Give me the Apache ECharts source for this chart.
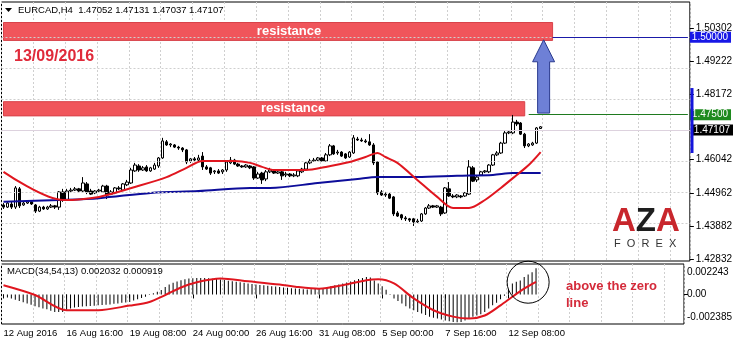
<!DOCTYPE html>
<html><head><meta charset="utf-8">
<script src="https://cdn.jsdelivr.net/npm/echarts@6/dist/echarts.min.js"></script>
<style>html,body{margin:0;padding:0;background:#fff}#c{width:735px;height:345px}</style>
</head><body><div id="c"></div><script>
const opens = [1.4458,1.4451,1.4461,1.4451,1.4510,1.4458,1.4464,1.4468,1.4458,1.4438,
1.4451,1.4445,1.4451,1.4455,1.4451,1.4500,1.4474,1.4503,1.4506,1.4510,
1.4503,1.4526,1.4503,1.4497,1.4503,1.4500,1.4519,1.4493,1.4497,1.4513,
1.4506,1.4523,1.4529,1.4568,1.4584,1.4571,1.4581,1.4568,1.4574,1.4584,
1.4610,1.4662,1.4652,1.4652,1.4645,1.4642,1.4636,1.4600,1.4607,1.4603,
1.4616,1.4581,1.4578,1.4565,1.4568,1.4565,1.4571,1.4594,1.4603,1.4590,
1.4584,1.4581,1.4584,1.4581,1.4545,1.4561,1.4542,1.4565,1.4568,1.4561,
1.4565,1.4555,1.4558,1.4552,1.4552,1.4565,1.4574,1.4594,1.4600,1.4603,
1.4610,1.4600,1.4620,1.4649,1.4626,1.4629,1.4623,1.4613,1.4626,1.4671,
1.4668,1.4665,1.4662,1.4652,1.4597,1.4500,1.4490,1.4493,1.4484,1.4432,
1.4426,1.4416,1.4413,1.4413,1.4403,1.4406,1.4429,1.4448,1.4455,1.4451,
1.4451,1.4432,1.4510,1.4487,1.4484,1.4487,1.4487,1.4493,1.4578,1.4539,
1.4555,1.4565,1.4565,1.4587,1.4620,1.4626,1.4658,1.4691,1.4691,1.4726,
1.4723,1.4687,1.4649,1.4652,1.4658,1.47052];
const closes = [1.4451,1.4464,1.4451,1.4513,1.4455,1.4464,1.4468,1.4461,1.4438,1.4451,
1.4445,1.4451,1.4455,1.4451,1.4500,1.4474,1.4503,1.4506,1.4510,1.4503,
1.4529,1.4500,1.4493,1.4503,1.4506,1.4519,1.4490,1.4500,1.4513,1.4510,
1.4526,1.4532,1.4571,1.4587,1.4571,1.4578,1.4568,1.4578,1.4587,1.4610,
1.4665,1.4652,1.4655,1.4645,1.4642,1.4636,1.4597,1.4607,1.4603,1.4610,
1.4581,1.4574,1.4561,1.4568,1.4561,1.4571,1.4597,1.4603,1.4590,1.4584,
1.4581,1.4587,1.4578,1.4545,1.4558,1.4539,1.4565,1.4571,1.4561,1.4565,
1.4552,1.4558,1.4552,1.4555,1.4568,1.4574,1.4594,1.4600,1.4603,1.4610,
1.4600,1.4620,1.4649,1.4623,1.4629,1.4616,1.4610,1.4629,1.4675,1.4668,
1.4665,1.4662,1.4652,1.4594,1.4497,1.4490,1.4493,1.4480,1.4429,1.4422,
1.4416,1.4413,1.4409,1.4403,1.4406,1.4429,1.4448,1.4455,1.4451,1.4455,
1.4429,1.4513,1.4487,1.4484,1.4490,1.4484,1.4497,1.4581,1.4535,1.4548,
1.4565,1.4568,1.4587,1.4620,1.4626,1.4658,1.4691,1.4694,1.4726,1.4720,
1.4687,1.4649,1.4655,1.4658,1.4707,1.47107];
const lows = [1.4445,1.4448,1.4445,1.4445,1.4448,1.4455,1.4461,1.4458,1.4432,1.4435,
1.4442,1.4442,1.4448,1.4445,1.4442,1.4468,1.4471,1.4500,1.4503,1.4500,
1.4500,1.4493,1.4490,1.4493,1.4500,1.4497,1.4477,1.4490,1.4493,1.4506,
1.4503,1.4519,1.4526,1.4565,1.4565,1.4568,1.4565,1.4565,1.4571,1.4578,
1.4607,1.4649,1.4645,1.4642,1.4636,1.4629,1.4590,1.4594,1.4600,1.4600,
1.4571,1.4571,1.4555,1.4558,1.4558,1.4558,1.4565,1.4590,1.4587,1.4581,
1.4578,1.4578,1.4574,1.4539,1.4542,1.4526,1.4535,1.4561,1.4558,1.4558,
1.4539,1.4548,1.4548,1.4548,1.4548,1.4561,1.4571,1.4590,1.4597,1.4600,
1.4597,1.4597,1.4616,1.4620,1.4620,1.4613,1.4607,1.4610,1.4623,1.4665,
1.4662,1.4658,1.4649,1.4587,1.4490,1.4487,1.4484,1.4477,1.4422,1.4419,
1.4409,1.4406,1.4403,1.4390,1.4400,1.4403,1.4426,1.4445,1.4448,1.4448,
1.4422,1.4429,1.4484,1.4480,1.4480,1.4480,1.4484,1.4490,1.4532,1.4532,
1.4552,1.4561,1.4561,1.4584,1.4616,1.4623,1.4655,1.4687,1.4687,1.4713,
1.4684,1.4642,1.4645,1.4649,1.4655,1.47037];
const highs = [1.4464,1.4468,1.4468,1.4519,1.4516,1.4471,1.4474,1.4471,1.4461,1.4455,
1.4455,1.4455,1.4461,1.4458,1.4503,1.4510,1.4510,1.4513,1.4516,1.4513,
1.4548,1.4532,1.4510,1.4506,1.4510,1.4523,1.4523,1.4506,1.4516,1.4519,
1.4529,1.4539,1.4578,1.4594,1.4590,1.4584,1.4587,1.4581,1.4594,1.4613,
1.4675,1.4668,1.4658,1.4655,1.4649,1.4645,1.4639,1.4610,1.4613,1.4620,
1.4629,1.4587,1.4581,1.4571,1.4574,1.4574,1.4600,1.4613,1.4607,1.4594,
1.4587,1.4590,1.4587,1.4584,1.4565,1.4565,1.4571,1.4578,1.4571,1.4571,
1.4568,1.4565,1.4561,1.4561,1.4571,1.4578,1.4597,1.4607,1.4610,1.4613,
1.4613,1.4626,1.4655,1.4652,1.4636,1.4632,1.4626,1.4632,1.4684,1.4678,
1.4675,1.4671,1.4687,1.4658,1.4600,1.4506,1.4500,1.4497,1.4487,1.4438,
1.4429,1.4422,1.4416,1.4416,1.4413,1.4432,1.4451,1.4461,1.4458,1.4458,
1.4455,1.4516,1.4532,1.4493,1.4493,1.4490,1.4500,1.4603,1.4584,1.4552,
1.4568,1.4571,1.4590,1.4623,1.4632,1.4662,1.4697,1.4697,1.4749,1.4733,
1.4726,1.4691,1.4658,1.4662,1.4710,1.47131];

const redMA = [[0,1.4565],[15,1.4474],[24,1.4484],[33,1.4516],[41,1.4548],[46,1.4578],[50,1.4600],[58,1.4600],[62,1.4594],[65,1.4581],[68,1.4571],[76,1.4571],[81,1.4581],[87,1.4597],[91,1.4613],[94,1.4626],[96,1.4613],[99,1.4594],[104,1.4539],[109,1.4484],[113,1.4448],[117,1.4448],[121,1.4474],[125,1.4513],[129,1.4555],[132,1.4587],[135,1.4629]];
const blueMA = [[0,1.4468],[14,1.4474],[24,1.4480],[37,1.4497],[49,1.4503],[62,1.4513],[67,1.4513],[79,1.4529],[89,1.4542],[94,1.4548],[104,1.4548],[114,1.4552],[123,1.4555],[128,1.4561],[135,1.4561]];

const macdHist = [-0.0002,-0.00026,-0.00035,-0.00045,-0.00055,-0.00066,-0.00077,-0.00088,-0.001,-0.0011,
-0.0012,-0.00127,-0.0014,-0.0015,-0.0015,-0.0015,-0.0013,-0.0012,-0.00112,-0.00107,
-0.00104,-0.00101,-0.00099,-0.00096,-0.00093,-0.0009,-0.00088,-0.00086,-0.0008,-0.00077,
-0.00072,-0.00068,-0.00064,-0.00052,-0.00041,-0.0003,-0.0002,-0.00005,0.0001,0.00024,
0.00039,0.00064,0.00085,0.001,0.00112,0.00122,0.0013,0.00137,0.00139,0.0014,
0.00141,0.0014,0.00138,0.00135,0.00132,0.00129,0.00124,0.00118,0.00113,0.00109,
0.00104,0.001,0.00095,0.0009,0.00086,0.00082,0.00079,0.00075,0.00071,0.00068,
0.00064,0.0006,0.00057,0.00054,0.00051,0.00048,0.00045,0.00043,0.00044,0.00047,
0.00051,0.00056,0.00062,0.0007,0.00078,0.00086,0.00094,0.00103,0.00112,0.00122,
0.00132,0.00142,0.0015,0.00145,0.0012,0.00094,0.0007,0.0004,0.00005,-0.00034,
-0.00055,-0.00077,-0.001,-0.0012,-0.00135,-0.0015,-0.00163,-0.00176,-0.0019,-0.002,
-0.00206,-0.00215,-0.00223,-0.0023,-0.00235,-0.00238,-0.00235,-0.00223,-0.0021,-0.0019,
-0.0018,-0.0017,-0.0015,-0.0012,-0.00093,-0.0007,-0.0004,-0.0001,0.0004,0.00094,
0.0011,0.0012,0.0015,0.0017,0.0019,0.00224];
const macdSignal = [[0,0.00079],[8,-0.00005],[16,-0.00135],[24,-0.00135],[32,-0.00095],[37,-0.00064],[41,-0.00005],[45,0.0006],[49,0.00105],[55,0.00137],[62,0.00113],[70,0.00085],[74,0.00066],[80,0.0005],[86,0.00079],[92,0.00122],[95,0.0013],[99,0.00094],[104,-0.00034],[109,-0.00135],[114,-0.0019],[118,-0.00206],[122,-0.0018],[126,-0.00093],[129,-0.0002],[132,0.0005],[135,0.00107]];

const priceTicks = [1.50302,1.49222,1.48172,1.46042,1.44962,1.43882,1.42832];
const gridLevels = [1.50302,1.49222,1.48172,1.47092,1.46042,1.44962,1.43882];
const macdTicks = [0.002243,0,-0.002385];
const timeLabels = ['12 Aug 2016','16 Aug 16:00','19 Aug 08:00','24 Aug 00:00','26 Aug 16:00','31 Aug 08:00','5 Sep 00:00','7 Sep 16:00','12 Sep 08:00'];
const resistance1 = [1.5048, 1.4990];
const resistance2 = [1.4792, 1.4746];
const targetLevel = 1.5;
const breakLevel = 1.475;
const bidPrice = 1.47107;
const SLOTS = 173;

const FONT = '"Liberation Sans", Arial, sans-serif';
const categories = Array.from({length: SLOTS}, (_, i) => String(i));
const candles = opens.map((o, i) => [o, closes[i], lows[i], highs[i]]);

const chart = echarts.init(document.getElementById('c'), null, {renderer: 'canvas'});
const dotted = {color: '#cfcfcf', type: [2, 2], width: 1};
const gridL = 1.5, gridW = 692;

const option = {
  animation: false,
  backgroundColor: '#fff',
  textStyle: {fontFamily: FONT},
  grid: [
    {left: gridL, width: gridW, top: 2, height: 259, show: true, borderColor: '#000', borderWidth: 1, backgroundColor: 'transparent'},
    {left: gridL, width: gridW, top: 264, height: 60, show: true, borderColor: '#000', borderWidth: 1, backgroundColor: 'transparent'}
  ],
  xAxis: [
    {type: 'category', gridIndex: 0, data: categories, boundaryGap: true,
     axisLine: {show: false}, axisTick: {show: false}, axisLabel: {show: false},
     splitLine: {show: true, interval: (i) => i % 8 === 0, lineStyle: dotted}},
    {type: 'category', gridIndex: 1, data: categories, boundaryGap: true,
     axisLine: {show: false},
     axisTick: {show: true, alignWithLabel: true, length: 4, interval: (i) => i % 16 === 0 && i / 16 < timeLabels.length, lineStyle: {color: '#000'}},
     axisLabel: {show: true, interval: (i) => i % 16 === 0 && i / 16 < timeLabels.length,
       formatter: (v) => timeLabels[Number(v) / 16] || '', align: 'left', margin: 4,
       color: '#000', fontSize: 9.5, fontFamily: FONT},
     splitLine: {show: true, interval: (i) => i % 8 === 0, lineStyle: dotted}}
  ],
  yAxis: [
    {type: 'value', gridIndex: 0, position: 'right', min: 1.42767, max: 1.51143, scale: true,
     axisLine: {show: false}, splitLine: {show: false},
     axisTick: {show: true, customValues: priceTicks, length: 4, lineStyle: {color: '#000'}},
     axisLabel: {show: true, customValues: priceTicks, formatter: (v) => v.toFixed(5), margin: 6,
       color: '#000', fontSize: 10, fontFamily: FONT}},
    {type: 'value', gridIndex: 1, position: 'right', min: -0.00253, max: 0.00261,
     axisLine: {show: false}, splitLine: {show: false},
     axisTick: {show: true, customValues: [0], length: 4, lineStyle: {color: '#000'}},
     axisLabel: {show: true, customValues: macdTicks, margin: 3, color: '#000', fontSize: 10, fontFamily: FONT,
       formatter: (v) => v === 0 ? '0.00' : (v > 0 ? '{t|' + v.toFixed(6) + '}' : '{b|' + v.toFixed(6) + '}'),
       rich: {t: {padding: [7, 0, 0, 0], fontSize: 10, color: '#000', fontFamily: FONT},
              b: {padding: [0, 0, 10, 0], fontSize: 10, color: '#000', fontFamily: FONT}}}}
  ],
  series: [
    {type: 'candlestick', xAxisIndex: 0, yAxisIndex: 0, data: candles, barWidth: 3, z: 3,
     itemStyle: {color: '#fff', color0: '#000', borderColor: '#000', borderColor0: '#000', borderWidth: 1},
     markArea: {silent: true, z: 1, data: [
       [{coord: [0, resistance1[0]], itemStyle: {color: '#f0555b', borderColor: '#d8434a', borderWidth: 1},
         label: {show: true, position: 'inside', offset: [11, 0], formatter: 'resistance', color: '#fff', fontSize: 13, fontWeight: 'bold', fontFamily: FONT}},
        {coord: [138, resistance1[1]]}],
       [{coord: [0, resistance2[0]], itemStyle: {color: '#f0555b', borderColor: '#d8434a', borderWidth: 1},
         label: {show: true, position: 'inside', offset: [29, 0], formatter: 'resistance', color: '#fff', fontSize: 13, fontWeight: 'bold', fontFamily: FONT}},
        {coord: [131, resistance2[1]]}]
     ]},
     markLine: {silent: true, symbol: ['none', 'none'], animation: false, data: [
       ...gridLevels.map(v => ({yAxis: v, lineStyle: dotted, label: {show: false}})),
       {yAxis: bidPrice, lineStyle: {color: '#ddd2de', type: 'solid', width: 1},
        label: {show: true, position: 'end', distance: 2, formatter: bidPrice.toFixed(5), color: '#fff', backgroundColor: '#000', padding: [1, 3, 0, 2], fontSize: 10, fontFamily: FONT}},
       [{coord: [138, targetLevel], lineStyle: {color: '#1a1aa8', type: 'solid', width: 1},
         label: {show: true, position: 'end', distance: 2, formatter: targetLevel.toFixed(5), color: '#fff', backgroundColor: '#1818e6', padding: [1, 3, 0, 2], fontSize: 10, fontFamily: FONT}},
        {coord: [172, targetLevel]}],
       [{coord: [132, breakLevel], lineStyle: {color: '#1f7a1f', type: 'solid', width: 1},
         label: {show: true, position: 'end', distance: 2, formatter: breakLevel.toFixed(5), color: '#fff', backgroundColor: '#1e8a1e', padding: [1, 3, 0, 2], fontSize: 10, fontFamily: FONT}},
        {coord: [172, breakLevel]}]
     ]}},
    {type: 'line', xAxisIndex: 0, yAxisIndex: 0, data: redMA, smooth: 0.3, symbol: 'none', z: 5,
     lineStyle: {color: '#e0161f', width: 2}},
    {type: 'line', xAxisIndex: 0, yAxisIndex: 0, data: blueMA, smooth: 0.3, symbol: 'none', z: 4,
     lineStyle: {color: '#0d0d9a', width: 2}},
    {type: 'bar', xAxisIndex: 1, yAxisIndex: 1, data: macdHist, barWidth: 1, z: 3,
     itemStyle: {color: '#000'}},
    {type: 'line', xAxisIndex: 1, yAxisIndex: 1, data: macdSignal, smooth: 0.3, symbol: 'none', z: 5,
     lineStyle: {color: '#e0161f', width: 2}}
  ]
};
chart.setOption(option);

// annotations anchored through the coordinate systems
const px = (i, v) => chart.convertToPixel({xAxisIndex: 0, yAxisIndex: 0}, [i, v]);
const mx = (i, v) => chart.convertToPixel({xAxisIndex: 1, yAxisIndex: 1}, [i, v]);
const ax = px(136, 1.4992)[0] - 1;
const yApex = px(136, 1.4992)[1], yHead = px(136, 1.4921)[1], yBot = px(136, 1.4755)[1];
const circ = mx(133, 0.00105);
const barTop = px(172, 1.4836)[1], barBot = px(172, 1.4626)[1];

chart.setOption({graphic: [
  {type: 'polygon', z: 10, shape: {points: [[5, 8], [12, 8], [8.5, 12]]}, style: {fill: '#000'}},
  {type: 'text', z: 10, x: 18, y: 10, style: {text: 'EURCAD,H4  1.47052 1.47131 1.47037 1.47107', font: '9.5px ' + FONT, fill: '#000', verticalAlign: 'middle'}},
  {type: 'text', z: 10, x: 14, y: 57, style: {text: '13/09/2016', font: 'bold 16px ' + FONT, fill: '#e02a3a', verticalAlign: 'middle'}},
  {type: 'text', z: 10, x: 7, y: 271, style: {text: 'MACD(34,54,13) 0.002032 0.000919', font: '9.5px ' + FONT, fill: '#000', verticalAlign: 'middle'}},
  {type: 'text', z: 10, x: 566, y: 286, style: {text: 'above the zero', font: 'bold 13px ' + FONT, fill: '#d42a3a', verticalAlign: 'middle'}},
  {type: 'text', z: 10, x: 566, y: 303, style: {text: 'line', font: 'bold 13px ' + FONT, fill: '#d42a3a', verticalAlign: 'middle'}},
  {type: 'text', z: 10, x: 612, y: 222, style: {text: '{r|A}{k|Z}{r|A}', verticalAlign: 'middle',
     rich: {r: {fill: '#c8262c', font: 'bold 33px ' + FONT}, k: {fill: '#1e1e1e', font: 'bold 33px ' + FONT}}}},
  {type: 'text', z: 10, x: 614, y: 244, style: {text: 'F  O  R  E  X', font: '11px ' + FONT, fill: '#333', verticalAlign: 'middle'}},
  {type: 'circle', z: 12, shape: {cx: circ[0], cy: circ[1], r: 21}, style: {fill: 'none', stroke: '#000', lineWidth: 1}},
  {type: 'polygon', z: 11, shape: {points: [[ax, yApex], [ax + 11, yHead], [ax + 6, yHead], [ax + 6, yBot], [ax - 6, yBot], [ax - 6, yHead], [ax - 11, yHead]]},
   style: {fill: '#6e80d6', stroke: '#2b3b8f', lineWidth: 1}},
  {type: 'rect', z: 11, shape: {x: 690.5, y: barTop, width: 3, height: barBot - barTop}, style: {fill: '#1414dc'}}
]});
</script></body></html>
